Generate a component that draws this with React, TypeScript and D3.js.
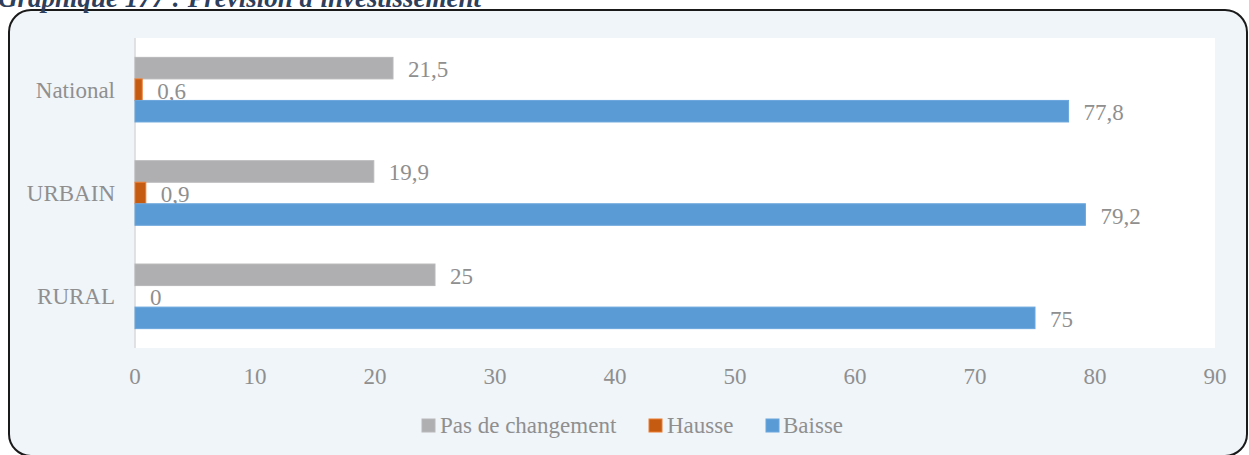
import React from "react";
import * as d3 from "d3";

const categories = ["National", "URBAIN", "RURAL"];
const seriesNames = ["Pas de changement", "Hausse", "Baisse"];
const pasDeChangement = [21.5, 19.9, 25];
const hausse = [0.6, 0.9, 0];
const baisse = [77.8, 79.2, 75];
const labelsPas = ["21,5", "19,9", "25"];
const labelsHausse = ["0,6", "0,9", "0"];
const labelsBaisse = ["77,8", "79,2", "75"];
const xTicks = [0, 10, 20, 30, 40, 50, 60, 70, 80, 90];

const W = 1249;
const H = 455;
const plot = { left: 135, right: 1215, top: 38, bottom: 348 };
const FONT = "Liberation Serif, Times New Roman, serif";
const TXT = "#8f8f8f";

const colors = ["#AFAFB1", "#C55A11", "#5B9BD5"];
const strokes = ["#B8B8BA", "#ED7D31", "#6AA6DC"];

export default function App() {
  const x = d3.scaleLinear().domain([0, 90]).range([plot.left, plot.right]);
  const y = d3.scaleBand().domain(categories).range([plot.top, plot.bottom]).paddingInner(0).paddingOuter(0);
  const inner = d3
    .scaleBand()
    .domain(seriesNames)
    .range([0, y.bandwidth()])
    .paddingInner(0)
    .paddingOuter(0.9);

  const data = [pasDeChangement, hausse, baisse];
  const labels = [labelsPas, labelsHausse, labelsBaisse];

  const legendItems = [
    { name: seriesNames[0], sq: 422, tx: 440 },
    { name: seriesNames[1], sq: 649, tx: 667 },
    { name: seriesNames[2], sq: 766, tx: 783 },
  ];

  return (
    <svg
      width={W}
      height={H}
      style={{ position: "absolute", left: 0, top: 0, background: "#ffffff" }}
      fontFamily={FONT}
    >
      <rect x={9} y={10} width={1238} height={446} rx={22} ry={22} fill="#F0F5FA" stroke="#1a1a1a" strokeWidth={2} />
      <text x={-2} y={7} fontSize={27} fontWeight="bold" fontStyle="italic" fill="#2E3F5C">
        Graphique 177 : Prévision d'investissement
      </text>
      <rect x={plot.left} y={plot.top} width={plot.right - plot.left} height={plot.bottom - plot.top} fill="#ffffff" />
      <line x1={x(0)} x2={x(0)} y1={plot.top} y2={plot.bottom} stroke="#D9D9D9" strokeWidth={1.5} />

      {data.map((vals, si) => (
        <g key={si}>
          {categories.map((c, ci) => {
            const by = (y(c) as number) + (inner(seriesNames[si]) as number);
            const bh = inner.bandwidth();
            return (
              <g key={c}>
                {vals[ci] > 0 && (
                  <rect
                    x={x(0)}
                    y={by}
                    width={x(vals[ci]) - x(0)}
                    height={bh}
                    fill={colors[si]}
                    stroke={strokes[si]}
                    strokeWidth={1}
                  />
                )}
              </g>
            );
          })}
          {categories.map((c, ci) => {
            const by = (y(c) as number) + (inner(seriesNames[si]) as number);
            const bh = inner.bandwidth();
            return (
              <text
                key={"l" + c}
                x={x(vals[ci]) + 15}
                y={by + bh / 2 + 9}
                fontSize={23}
                fill={TXT}
              >
                {labels[si][ci]}
              </text>
            );
          })}
        </g>
      ))}

      {categories.map((c) => (
        <text
          key={c}
          x={115}
          y={(y(c) as number) + y.bandwidth() / 2 + 8}
          fontSize={23}
          fill={TXT}
          textAnchor="end"
        >
          {c}
        </text>
      ))}

      {xTicks.map((t) => (
        <text key={t} x={x(t)} y={384} fontSize={23} fill={TXT} textAnchor="middle">
          {t}
        </text>
      ))}

      {legendItems.map((it, i) => (
        <g key={it.name}>
          <rect x={it.sq} y={419} width={13} height={13} fill={colors[i]} stroke={strokes[i]} strokeWidth={1} />
          <text x={it.tx} y={433} fontSize={23} fill={TXT}>
            {it.name}
          </text>
        </g>
      ))}
    </svg>
  );
}
